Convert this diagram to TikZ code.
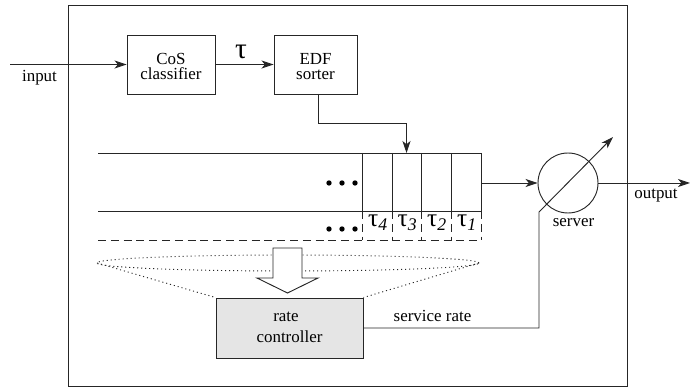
\documentclass[tikz,border=0pt]{standalone}
\usepackage{fontspec}
\setmainfont{Liberation Serif}
\usetikzlibrary{arrows.meta,shapes.geometric}
\tikzset{
  wire/.style={line width=0.7pt, draw=black!85},
  arr/.style={wire, -{Stealth[length=9pt,width=6pt,inset=2.5pt]}},
  block/.style={draw=black!85, line width=0.7pt, rectangle, inner sep=0pt},
  lbl/.style={font=\fontsize{12.7}{14}\selectfont, inner sep=0pt, anchor=base},
  tagtau/.style={font=\fontsize{19}{19}\selectfont, inner sep=0pt, anchor=base},
  dotline/.style={draw=black!85, line width=0.7pt, dash pattern=on 0.8pt off 2.2pt},
  dashline/.style={draw=black!85, line width=0.7pt, dash pattern=on 6pt off 3.6pt},
}
\begin{document}
\begin{tikzpicture}[x=0.75pt, y=-0.75pt]
\useasboundingbox (0,0) rectangle (697,391);

% enclosing frame
\draw[wire] (68,5) rectangle (627,386);

% classifier and sorter
\node[block, minimum width=66pt, minimum height=44.25pt] (cos) at (171,64.5) {};
\node[lbl] (cos1) at (171,65) {CoS};
\node[lbl] (cos2) at (171,79.5) {classifier};
\node[block, minimum width=62.25pt, minimum height=44.25pt] (edf) at (315.5,64.5) {};
\node[lbl] (edf1) at (315.5,65) {EDF};
\node[lbl] (edf2) at (315.5,79.5) {sorter};

\coordinate (in) at (10,64.5);
\draw[arr] (in) -- (cos.west);
\node[lbl] (inlbl) at (39.5,82) {input};
\draw[arr] (cos.east) -- (edf.west);
\node[font=\fontsize{22}{22}\selectfont, inner sep=0pt, anchor=base] (tau) at (241,59) {τ};

% queue
\draw[wire] (98,153) -- (481,153);
\draw[wire] (98,211) -- (481,211);
\foreach \x in {362,392,421,451,481} {
  \draw[wire] (\x,153) -- (\x,211);
  \draw[dashline] (\x,211) -- (\x,240);
}
\draw[dashline] (98,240) -- (481,240);
\foreach \x in {329,342,355} {
  \fill (\x,183) circle[radius=2pt];
  \fill (\x,229) circle[radius=2pt];
}
\node[tagtau] (t4) at (378,227) {τ\textsubscript{\textit{4}}};
\node[tagtau] (t3) at (407.5,227) {τ\textsubscript{\textit{3}}};
\node[tagtau] (t2) at (437,227) {τ\textsubscript{\textit{2}}};
\node[tagtau] (t1) at (467,227) {τ\textsubscript{\textit{1}}};

% sorter output into the queue
\coordinate (edfout) at (318,94);
\coordinate (slot) at (406.5,153);
\draw[arr] (edfout) -- (318,123) -| (slot);

% server
\node[draw=black!85, line width=0.7pt, circle, minimum size=45pt, inner sep=0pt] (srv) at (568,183) {};
\node[lbl] (srvlbl) at (573.5,226.7) {server};
\coordinate (qout) at (481,183);
\draw[arr] (qout) -- (srv.west);
\coordinate (out) at (690,183);
\draw[arr] (srv.east) -- (out);
\node[lbl] (outlbl) at (656,199) {output};

% rate controller
\node[block, fill=black!10, minimum width=110.25pt, minimum height=45pt] (rc) at (289.5,328) {};
\node[lbl] (rc1) at (286,322) {rate};
\node[lbl] (rc2) at (289.5,343) {controller};
\coordinate (kink) at (539,212);
\coordinate (knob) at (613,137);
\draw[arr] (rc.east) -| (kink) -- (knob);
\node[lbl] (srlbl) at (432.5,321.7) {service rate};

% observation window over the queue
\draw[dotline] (288,263) ellipse[x radius=143.25pt, y radius=6pt];
\coordinate (eleft) at (97,263);
\coordinate (eright) at (479,263);
\draw[dotline] (eleft) -- (rc.north west);
\draw[dotline] (eright) -- (rc.north east);

% hollow arrow down to the controller
\draw[wire, fill=white] (273,248) -- (302,248) -- (302,278) -- (318,278) -- (287.5,293) -- (257,278) -- (273,278) -- cycle;
\end{tikzpicture}
\end{document}
